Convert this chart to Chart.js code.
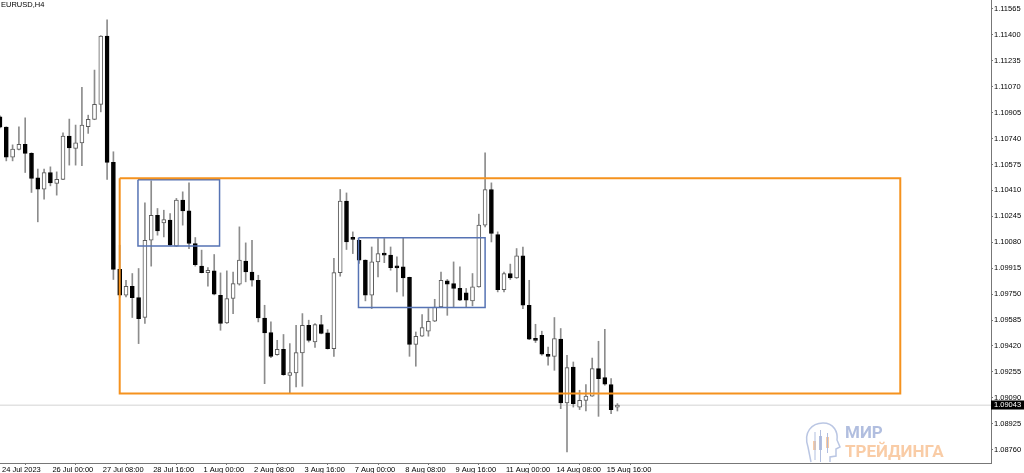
<!DOCTYPE html>
<html>
<head>
<meta charset="utf-8">
<script src="https://cdn.jsdelivr.net/npm/chart.js@4.4.0/dist/chart.umd.min.js"></script>
<style>
html, body { margin: 0; padding: 0; background: #fff; }
canvas { display: block; }
</style>
</head>
<body>
<canvas id="myChart" width="1024" height="473"></canvas>
<script>
const symbol = 'EURUSD,H4'

// H4 candles, bar index 0 = first visible bar
const opens = [1.10879,1.10813,1.10622,1.10671,1.10703,1.10646,1.10490,1.10418,1.10524,1.10454,
  1.10480,1.10756,1.10677,1.10713,1.10815,1.10862,1.10958,1.11393,1.10588,1.09907,
  1.09743,1.09800,1.09728,1.09601,1.10093,1.10252,1.10203,1.10221,1.10055,1.10348,
  1.10280,1.10072,1.09928,1.09887,1.09898,1.09743,1.09566,1.09722,1.09813,1.09961,
  1.09891,1.09838,1.09598,1.09505,1.09365,1.09399,1.09233,1.09248,1.09375,1.09552,
  1.09445,1.09556,1.09503,1.09403,1.09887,1.10342,1.10110,1.10093,1.09966,1.09743,
  1.09955,1.10008,1.09998,1.09928,1.09923,1.09856,1.09429,1.09482,1.09514,1.09577,
  1.09668,1.09834,1.09817,1.09786,1.09758,1.09707,1.09796,1.10189,1.10416,1.10129,
  1.09779,1.09881,1.09853,1.09993,1.09679,1.09467,1.09488,1.09367,1.09354,1.09463,
  1.09057,1.09286,1.09031,1.09074,1.09101,1.09276,1.09218,1.09174,1.09031]
const highs = [1.10885,1.10815,1.10700,1.10815,1.10872,1.10650,1.10546,1.10546,1.10560,1.10528,
  1.10777,1.10864,1.10826,1.11066,1.10889,1.11176,1.11395,1.11495,1.10656,1.10061,
  1.09838,1.09881,1.09913,1.10331,1.10471,1.10295,1.10284,1.10263,1.10359,1.10401,
  1.10458,1.10110,1.10030,1.09919,1.10002,1.09885,1.09898,1.09891,1.10178,1.10076,
  1.10093,1.09870,1.09679,1.09573,1.09456,1.09493,1.09435,1.09552,1.09626,1.09584,
  1.09563,1.09615,1.09524,1.09977,1.10416,1.10394,1.10146,1.10095,1.09968,1.10050,
  1.10104,1.10104,1.10050,1.09987,1.10110,1.09858,1.09509,1.09620,1.09658,1.09717,
  1.09891,1.09843,1.09955,1.09923,1.09786,1.09881,1.10259,1.10649,1.10458,1.10146,
  1.09891,1.09941,1.10040,1.10050,1.09838,1.09558,1.09514,1.09413,1.09601,1.09531,
  1.09361,1.09318,1.09138,1.09174,1.09343,1.09450,1.09526,1.09212,1.09053]
const lows = [1.10807,1.10598,1.10598,1.10668,1.10524,1.10397,1.10210,1.10354,1.10439,1.10380,
  1.10478,1.10571,1.10571,1.10567,1.10773,1.10860,1.10910,1.10480,1.09843,1.09730,
  1.09732,1.09601,1.09435,1.09563,1.09928,1.10125,1.10114,1.10058,1.10053,1.10189,
  1.10040,1.09928,1.09885,1.09800,1.09745,1.09520,1.09563,1.09626,1.09807,1.09828,
  1.09800,1.09573,1.09180,1.09346,1.09361,1.09233,1.09121,1.09159,1.09163,1.09445,
  1.09410,1.09497,1.09400,1.09354,1.09864,1.10034,1.10008,1.09945,1.09707,1.09658,
  1.09859,1.09950,1.09902,1.09764,1.09737,1.09354,1.09291,1.09480,1.09482,1.09575,
  1.09665,1.09615,1.09668,1.09708,1.09668,1.09675,1.09794,1.10178,1.10082,1.09764,
  1.09764,1.09843,1.09850,1.09658,1.09460,1.09442,1.09361,1.09297,1.09265,1.09021,
  1.08745,1.09031,1.09015,1.09006,1.09099,1.08972,1.09170,1.08989,1.09006]
const closes = [1.10813,1.10622,1.10673,1.10703,1.10646,1.10486,1.10418,1.10524,1.10458,1.10480,
  1.10756,1.10681,1.10713,1.10826,1.10862,1.10958,1.11393,1.10588,1.09907,1.09743,
  1.09800,1.09728,1.09594,1.10093,1.10252,1.10152,1.10225,1.10061,1.10348,1.10280,
  1.10072,1.09938,1.09887,1.09902,1.09749,1.09563,1.09722,1.09817,1.09966,1.09891,
  1.09838,1.09598,1.09503,1.09354,1.09399,1.09238,1.09250,1.09378,1.09552,1.09456,
  1.09556,1.09499,1.09403,1.09887,1.10342,1.10082,1.10098,1.09966,1.09743,1.09955,
  1.10008,1.09998,1.09919,1.09917,1.09853,1.09429,1.09482,1.09537,1.09577,1.09668,
  1.09838,1.09813,1.09786,1.09711,1.09711,1.09796,1.10189,1.10416,1.10136,1.09779,
  1.09881,1.09853,1.09993,1.09679,1.09463,1.09456,1.09367,1.09354,1.09467,1.09057,
  1.09282,1.09053,1.09074,1.09101,1.09276,1.09212,1.09176,1.09015,1.09043]

const xTickIdx = [0, 8, 16, 24, 32, 40, 48, 56, 64, 72, 80, 88, 96]
const xTickLabels = ['24 Jul 2023', '26 Jul 00:00', '27 Jul 08:00', '28 Jul 16:00', '1 Aug 00:00',
  '2 Aug 08:00', '3 Aug 16:00', '7 Aug 00:00', '8 Aug 08:00', '9 Aug 16:00', '11 Aug 00:00',
  '14 Aug 08:00', '15 Aug 16:00']
const yTicks = [1.11565, 1.11400, 1.11235, 1.11070, 1.10905, 1.10740, 1.10575, 1.10410, 1.10245,
  1.10080, 1.09915, 1.09750, 1.09585, 1.09420, 1.09255, 1.09090, 1.08925, 1.08760]

// drawn zones (bar index / price)
const boxLeft = [19, 21.9, 56.9]
const boxRight = [142.9, 34.85, 77]
const boxTop = [1.10488, 1.10478, 1.10108]
const boxBottom = [1.09117, 1.10057, 1.09664]
const boxColors = ['#f5921e', '#5673b4', '#5673b4']
const boxWidths = [2, 1.5, 1.5]

const lastPrice = closes[closes.length - 1]
const font = 'Liberation Sans'

let bodies = []
let wicks = []
let bodyColors = []
let bodyBorders = []
for (let i = 0; i < opens.length; i++) {
    bodies.push({x: i, y: [opens[i], closes[i]]})
    wicks.push({x: i, y: [lows[i], highs[i]]})
    const up = closes[i] >= opens[i]
    bodyColors.push(up ? '#ffffff' : '#000000')
    bodyBorders.push(up ? '#5a5a5a' : '#000000')
}

let boxSets = []
for (let k = 0; k < boxLeft.length; k++) {
    boxSets.push({
        type: 'line',
        data: [
            {x: boxLeft[k], y: boxTop[k]}, {x: boxRight[k], y: boxTop[k]},
            {x: boxRight[k], y: boxBottom[k]}, {x: boxLeft[k], y: boxBottom[k]},
            {x: boxLeft[k], y: boxTop[k]}
        ],
        borderColor: boxColors[k],
        borderWidth: boxWidths[k],
        borderJoinStyle: 'miter',
        pointRadius: 0,
        fill: false,
        tension: 0,
        order: 0
    })
}

const overlay = {
    id: 'overlay',
    beforeDatasetsDraw(chart) {
        const c = chart.ctx
        c.save()
        // watermark
        c.globalAlpha = 0.9
        c.font = 'bold 17px Roboto'
        c.fillStyle = '#a9b7dc'
        c.fillText('МИР', 845, 438)
        c.fillStyle = '#f8c79c'
        c.fillText('ТРЕЙДИНГА', 845, 456.5)
        c.strokeStyle = '#b3c0e0'
        c.lineWidth = 1.5
        c.beginPath()
        c.moveTo(811, 462)
        c.lineTo(808, 447)
        c.bezierCurveTo(803, 432, 812, 423, 823, 423)
        c.bezierCurveTo(834, 423, 838, 432, 837, 440)
        c.lineTo(840, 447)
        c.lineTo(836, 449)
        c.lineTo(836, 456)
        c.lineTo(830, 457)
        c.lineTo(830, 462)
        c.stroke()
        c.fillStyle = '#f8c79c'
        c.fillRect(813, 441, 3, 9)
        c.fillRect(826, 437, 3, 11)
        c.fillStyle = '#a9b7dc'
        c.fillRect(819, 436, 3, 14)
        c.fillRect(814.5, 432, 1, 28)
        c.fillRect(820, 430, 1, 32)
        c.fillRect(827, 433, 1, 20)
        c.restore()
    },
    afterDraw(chart) {
        const c = chart.ctx
        const y = chart.scales.y.getPixelForValue(lastPrice)
        const x0 = chart.chartArea.right
        c.save()
        c.fillStyle = '#000'
        c.fillRect(x0, Math.round(y) - 4.5, 33, 9)
        c.fillStyle = '#fff'
        c.font = '7.5px "' + font + '"'
        c.textBaseline = 'middle'
        c.fillText(lastPrice.toFixed(5), x0 + 3, Math.round(y))
        c.fillStyle = '#000'
        c.textBaseline = 'alphabetic'
        c.fillText(symbol, 1, 7)
        c.restore()
    }
}

const ctx = document.getElementById('myChart')
const chart = new Chart(ctx, {
    type: 'bar',
    data: {
        datasets: [
            ...boxSets,
            {
                label: 'bid',
                type: 'line',
                data: [{x: 0, y: lastPrice}, {x: 157.3, y: lastPrice}],
                borderColor: '#e2e2e2',
                borderWidth: 1.5,
                pointRadius: 0,
                order: 5
            },
            {
                label: 'body',
                data: bodies,
                backgroundColor: bodyColors,
                borderColor: bodyBorders,
                borderWidth: 1,
                borderSkipped: false,
                barThickness: 4,
                minBarLength: 2,
                grouped: false,
                order: 1
            },
            {
                label: 'wick',
                data: wicks,
                backgroundColor: '#8c8c8c',
                borderWidth: 0,
                barThickness: 1,
                grouped: false,
                order: 2
            }
        ]
    },
    options: {
        responsive: false,
        animation: false,
        layout: {padding: 0},
        plugins: {legend: {display: false}, tooltip: {enabled: false}},
        scales: {
            x: {
                type: 'linear',
                min: 0,
                max: 157.3,
                offset: false,
                afterFit: s => { s.height = 10; s.paddingLeft = 0; s.paddingRight = 0 },
                afterBuildTicks: s => { s.ticks = xTickIdx.map(v => ({value: v})) },
                grid: {drawOnChartArea: false, tickLength: 2, color: '#777'},
                border: {color: '#777'},
                ticks: {
                    autoSkip: false,
                    maxRotation: 0,
                    align: 'start',
                    padding: 0,
                    labelOffset: 2,
                    color: '#000',
                    font: {family: font, size: 7.5},
                    callback: (v, i) => xTickLabels[i]
                }
            },
            y: {
                position: 'right',
                min: 1.08675,
                max: 1.11622,
                afterFit: s => { s.width = 33; s.paddingTop = 0; s.paddingBottom = 0 },
                afterBuildTicks: s => { s.ticks = yTicks.map(v => ({value: v})) },
                grid: {drawOnChartArea: false, tickLength: 2, color: '#777'},
                border: {color: '#777'},
                ticks: {
                    padding: 1,
                    color: '#000',
                    font: {family: font, size: 7.5},
                    callback: v => v.toFixed(5)
                }
            }
        }
    },
    plugins: [overlay]
})
</script>
</body>
</html>
